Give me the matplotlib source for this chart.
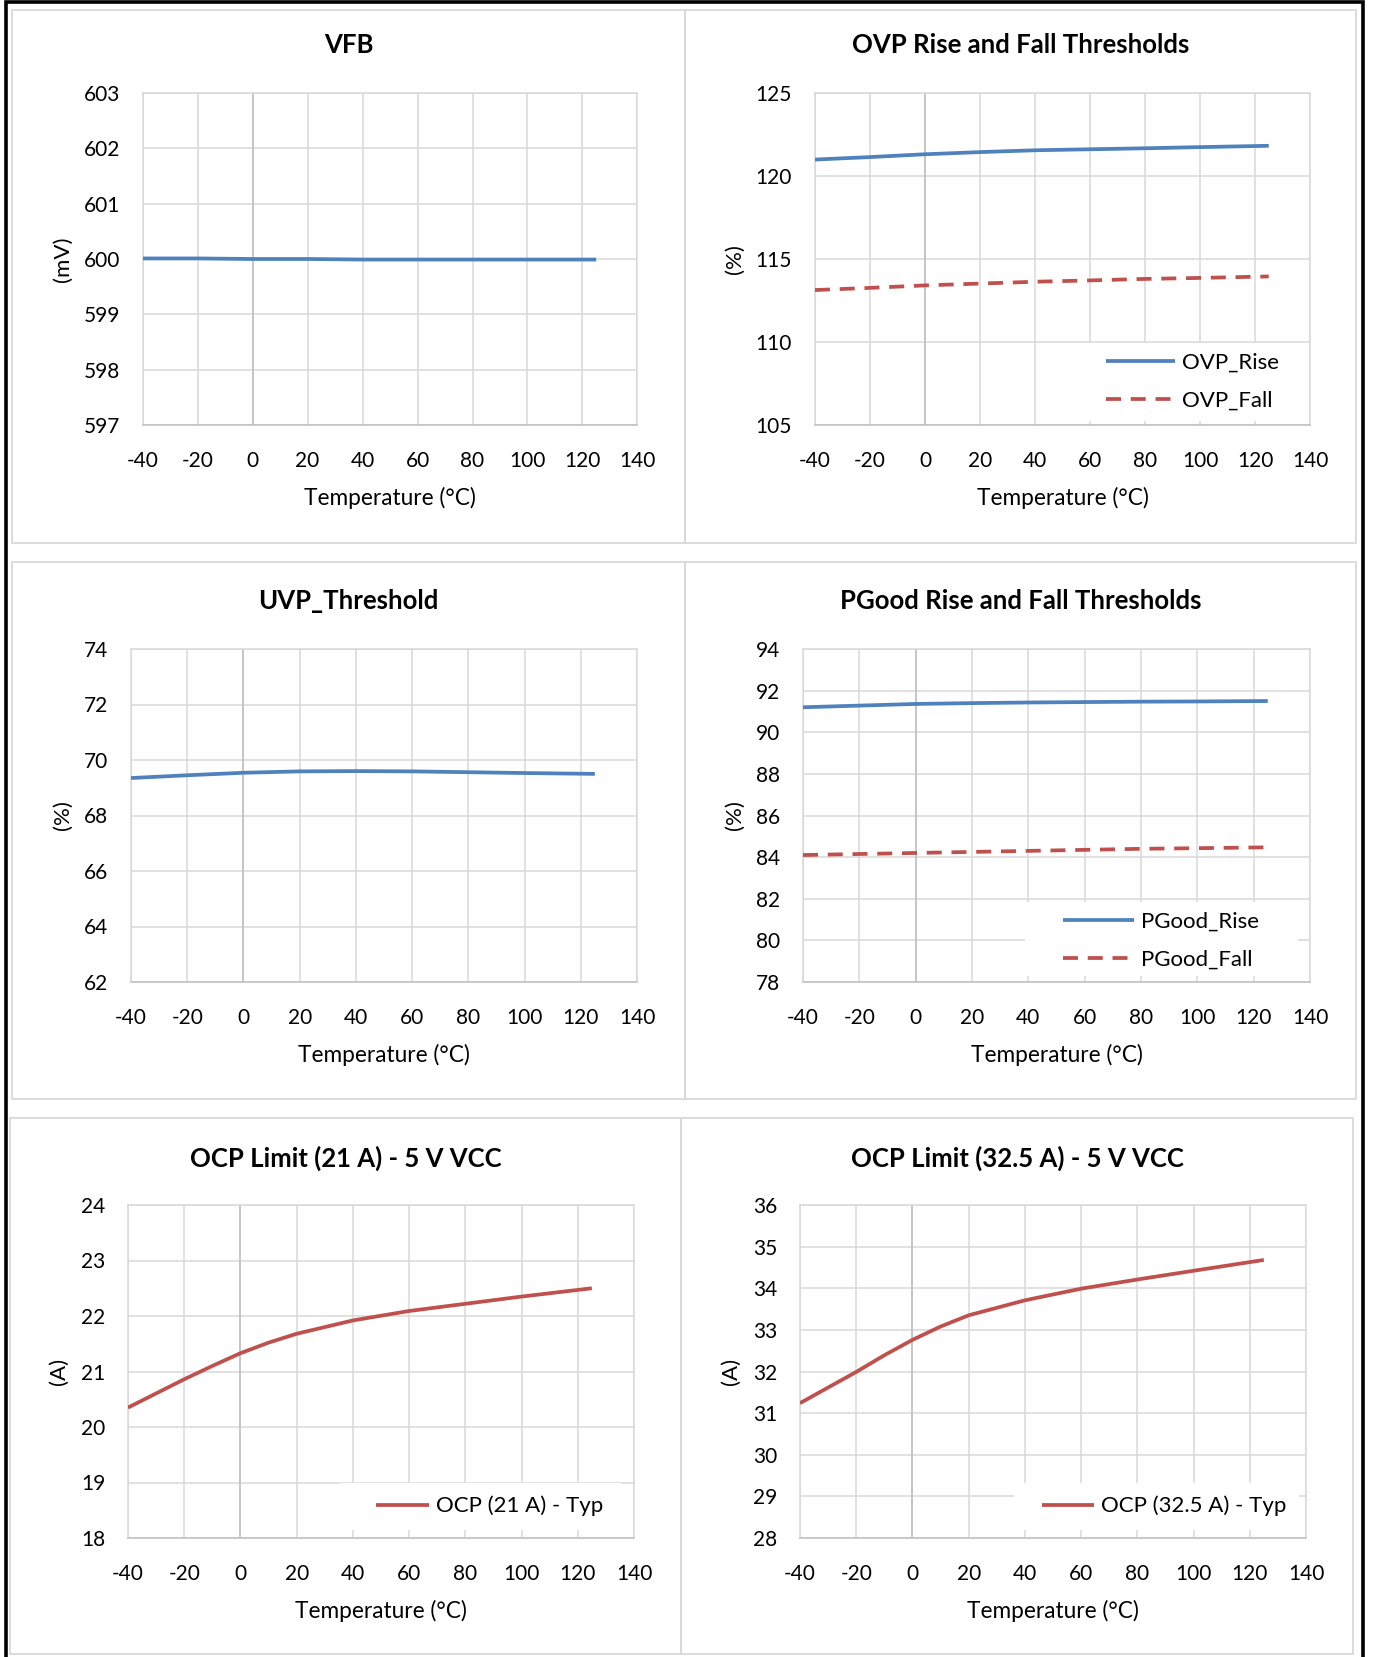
import matplotlib
matplotlib.use("Agg")
import matplotlib.pyplot as plt
from matplotlib.patches import Rectangle

plt.rcParams['font.family'] = ['Lato', 'DejaVu Sans']
plt.rcParams['axes.unicode_minus'] = False

W, H = 1373, 1657

# ---- data ----
temps = [-40, -20, 0, 20, 40, 60, 80, 100, 125]
vfb = [600.01, 600.01, 600.0, 600.0, 599.99, 599.99, 599.99, 599.99, 599.99]
ovp_rise = [120.99, 121.14, 121.31, 121.44, 121.55, 121.61, 121.67, 121.74, 121.82]
ovp_fall = [113.13, 113.26, 113.41, 113.52, 113.63, 113.71, 113.80, 113.86, 113.95]
uvp = [69.35, 69.45, 69.54, 69.59, 69.60, 69.59, 69.56, 69.53, 69.50]
pgood_rise = [91.20, 91.28, 91.36, 91.40, 91.43, 91.45, 91.47, 91.48, 91.50]
pgood_fall = [84.10, 84.15, 84.20, 84.25, 84.30, 84.35, 84.40, 84.43, 84.47]

ocp_temps = [-40, -20, -10, 0, 10, 20, 40, 60, 80, 100, 125]
ocp21 = [20.35, 20.86, 21.10, 21.33, 21.52, 21.68, 21.92, 22.09, 22.22, 22.35, 22.50]
ocp325 = [31.24, 31.99, 32.39, 32.76, 33.08, 33.35, 33.71, 33.99, 34.21, 34.42, 34.68]

BLUE = '#4F81BD'
RED = '#C0504D'
GRID = '#D9D9D9'
AXIS = '#BFBFBF'


def fig_box(x0, y0, x1, y1):
    return [x0 / W, 1 - y1 / H, (x1 - x0) / W, (y1 - y0) / H]


fig = plt.figure(figsize=(W / 100, H / 100), dpi=100)

# outer black frame and light grey panel frames
fig.add_artist(Rectangle((6 / W, 1 - 1680 / H), (1363 - 6) / W, (1680 - 2) / H,
                         transform=fig.transFigure, fill=False, edgecolor='black', lw=2.6))
panels = [(12, 10, 685, 543), (685, 10, 1356, 543),
          (12, 562, 685, 1099), (685, 562, 1356, 1099),
          (10, 1118, 681, 1654), (681, 1118, 1353, 1654)]
for x0, y0, x1, y1 in panels:
    fig.add_artist(Rectangle((x0 / W, 1 - y1 / H), (x1 - x0) / W, (y1 - y0) / H,
                             transform=fig.transFigure, fill=False, edgecolor=GRID, lw=1.3))


def make_chart(plot_px, panel, title, title_y, ylim, ystep, ylabel, ylabel_dx, series,
               legend=None):
    x0, y0, x1, y1 = plot_px
    ax = fig.add_axes(fig_box(*plot_px))
    w, h = x1 - x0, y1 - y0
    ax.set_xlim(-40, 140)
    ax.set_ylim(*ylim)
    ax.set_xticks(range(-40, 141, 20))
    yt = []
    v = ylim[0]
    while v <= ylim[1] + 1e-9:
        yt.append(v)
        v += ystep
    ax.set_yticks(yt)
    ax.set_axisbelow(True)
    ax.grid(True, color=GRID, lw=1.1)
    for s in ['top', 'right', 'left']:
        ax.spines[s].set_color(GRID)
        ax.spines[s].set_linewidth(1.1)
    ax.spines['bottom'].set_color(AXIS)
    ax.spines['bottom'].set_linewidth(1.1)
    ax.axvline(0, color=AXIS, lw=1.1, zorder=0.8)
    ax.tick_params(length=0, labelsize=15, colors='black')
    ax.tick_params(axis='x', pad=18.5)
    ax.tick_params(axis='y', pad=16.5)

    for xs, ys, color, dashed, label in series:
        line, = ax.plot(xs, ys, color=color, lw=2.7, label=label, zorder=3,
                        solid_capstyle='butt')
        if dashed:
            line.set_dashes((4, 2.6))

    ax.set_xlabel('Temperature (°C)', fontsize=16.3)
    ax.xaxis.set_label_coords(0.5, -73 / h)
    ax.xaxis.label.set_verticalalignment('center')
    ax.set_ylabel(ylabel, fontsize=16)
    ax.yaxis.set_label_coords(-ylabel_dx / w, 0.5)
    ax.yaxis.label.set_verticalalignment('center')

    px0, _, px1, _ = panel
    fig.text((px0 + px1) / 2 / W, 1 - title_y / H, title, fontsize=18.5,
             fontweight='bold', ha='center', va='center')

    if legend is not None:
        bx0, by0, bx1, by1, hx, hy, hlen = legend
        ax.add_patch(Rectangle(((bx0 - x0) / w, (y1 - by1) / h), (bx1 - bx0) / w,
                               (by1 - by0) / h, transform=ax.transAxes,
                               facecolor='white', edgecolor='none', zorder=1))
        n = len(series)
        ax.legend(loc='center left', bbox_to_anchor=((hx - x0) / w, (y1 - hy) / h),
                  frameon=False, fontsize=16, borderpad=0, borderaxespad=0,
                  handlelength=hlen, handletextpad=0.3,
                  labelspacing=0.8 if n > 1 else 0.5)
    return ax


make_chart((142.7, 93, 637.4, 425), panels[0], 'VFB', 45, (597, 603), 1, '(mV)', 80,
           [(temps, vfb, BLUE, False, 'VFB')])

make_chart((815, 93, 1310, 425), panels[1], 'OVP Rise and Fall Thresholds', 45,
           (105, 125), 5, '(%)', 80,
           [(temps, ovp_rise, BLUE, False, 'OVP_Rise'),
            (temps, ovp_fall, RED, True, 'OVP_Fall')],
           legend=(1080, 343, 1300, 421, 1106, 381.5, 3.1))

make_chart((131, 649, 637, 982), panels[2], 'UVP_Threshold', 601, (62, 74), 2, '(%)', 68,
           [(temps, uvp, BLUE, False, 'UVP')])

make_chart((803, 649, 1310, 982), panels[3], 'PGood Rise and Fall Thresholds', 601,
           (78, 94), 2, '(%)', 68,
           [(temps, pgood_rise, BLUE, False, 'PGood_Rise'),
            (temps, pgood_fall, RED, True, 'PGood_Fall')],
           legend=(1025, 902, 1298, 976, 1063, 940.5, 3.2))

make_chart((128, 1205, 634, 1538), panels[4], 'OCP Limit (21 A) - 5 V VCC', 1158,
           (18, 24), 1, '(A)', 69,
           [(ocp_temps, ocp21, RED, False, 'OCP (21 A) - Typ')],
           legend=(340, 1483, 621, 1530, 376, 1506, 2.4))

make_chart((800, 1205, 1306, 1538), panels[5], 'OCP Limit (32.5 A) - 5 V VCC', 1158,
           (28, 36), 1, '(A)', 69,
           [(ocp_temps, ocp325, RED, False, 'OCP (32.5 A) - Typ')],
           legend=(1014, 1483, 1299, 1530, 1042, 1506, 2.35))

fig.savefig('out.png', dpi=100)
